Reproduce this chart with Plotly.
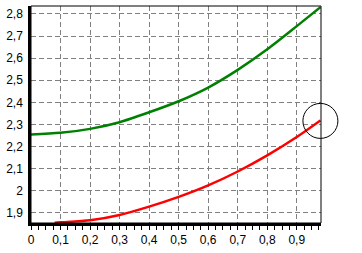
import plotly.graph_objects as go

# data
green_x = [0.0, 0.1, 0.2, 0.3, 0.4, 0.5, 0.6, 0.7, 0.8, 0.9, 0.98]
green_y = [2.255, 2.262, 2.28, 2.31, 2.355, 2.405, 2.467, 2.547, 2.64, 2.745, 2.831]
red_x = [0.08, 0.1, 0.2, 0.3, 0.4, 0.5, 0.6, 0.7, 0.8, 0.9, 0.98]
red_y = [1.855, 1.857, 1.866, 1.89, 1.928, 1.972, 2.024, 2.087, 2.16, 2.243, 2.318]
marker_x = [0.98]
marker_y = [2.316]
x_ticks = [0, 0.1, 0.2, 0.3, 0.4, 0.5, 0.6, 0.7, 0.8, 0.9]
x_labels = ["0", "0,1", "0,2", "0,3", "0,4", "0,5", "0,6", "0,7", "0,8", "0,9"]
y_ticks = [1.9, 2.0, 2.1, 2.2, 2.3, 2.4, 2.5, 2.6, 2.7, 2.8]
y_labels = ["1,9", "2", "2,1", "2,2", "2,3", "2,4", "2,5", "2,6", "2,7", "2,8"]

fig = go.Figure()
fig.add_trace(go.Scatter(x=green_x, y=green_y, mode="lines",
                         line=dict(color="#008000", width=2.5, shape="spline", smoothing=0.8), showlegend=False))
fig.add_trace(go.Scatter(x=red_x, y=red_y, mode="lines",
                         line=dict(color="#ff0000", width=2.5, shape="spline", smoothing=0.8), showlegend=False))
fig.add_trace(go.Scatter(x=marker_x, y=marker_y, mode="markers", cliponaxis=False,
                         marker=dict(symbol="circle-open", size=35, color="black", line=dict(width=1, color="black")),
                         showlegend=False))

fig.update_layout(
    width=362, height=253,
    margin=dict(l=28, r=41, t=6, b=27),
    paper_bgcolor="white", plot_bgcolor="white",
    font=dict(family="Liberation Sans, Arial, sans-serif", size=12, color="black"),
    xaxis=dict(range=[0, 0.982], tickvals=x_ticks, ticktext=x_labels, showgrid=True,
               gridcolor="#808080", griddash="5px,3px", gridwidth=1, zeroline=False,
               showline=True, linecolor="black", linewidth=2.5,
               ticks="outside", ticklen=4, tickcolor="black", tickwidth=1,
               minor=dict(dtick=0.025, tick0=0, ticks="outside", ticklen=4, tickcolor="black",
                          showgrid=False, gridcolor="rgba(0,0,0,0)"),
               tickfont=dict(size=12)),
    yaxis=dict(range=[1.854, 2.836], tickvals=y_ticks, ticktext=y_labels, showgrid=True,
               gridcolor="#808080", griddash="5px,3px", gridwidth=1, zeroline=False,
               showline=True, linecolor="black", linewidth=2.5, ticks="", ticklabelstandoff=3,
               tickfont=dict(size=12)),
    shapes=[dict(type="rect", xref="paper", yref="paper", x0=0, y0=0, x1=1, y1=1,
                 line=dict(color="black", width=1), layer="above")],
)

fig.write_html("out.html")
